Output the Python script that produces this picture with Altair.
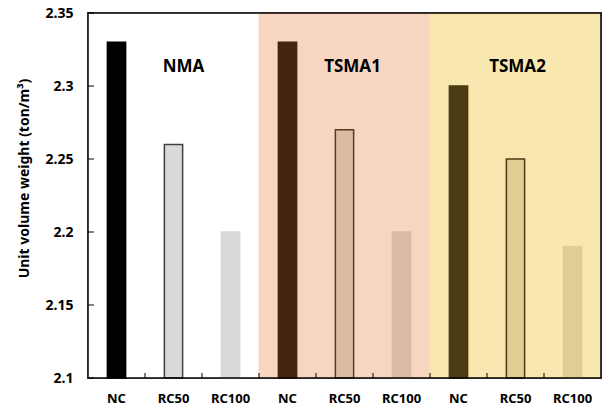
import altair as alt
import pandas as pd

groups = ["NMA", "NMA", "NMA", "TSMA1", "TSMA1", "TSMA1", "TSMA2", "TSMA2", "TSMA2"]
mixes = ["NC", "RC50", "RC100", "NC", "RC50", "RC100", "NC", "RC50", "RC100"]
values = [2.33, 2.26, 2.20, 2.33, 2.27, 2.20, 2.30, 2.25, 2.19]
fills = ["#000000", "#D9D9D9", "#D9D9D9",
         "#45230E", "#DBBBA4", "#DBBBA4",
         "#4A3B15", "#E0CD93", "#E0CD93"]
strokes = ["#000000", "#404040", "#D9D9D9",
           "#45230E", "#5A3A22", "#DBBBA4",
           "#4A3B15", "#4A3B15", "#E0CD93"]
group_bg = {"NMA": "#FFFFFF", "TSMA1": "#F8D5C0", "TSMA2": "#F8E7AF"}
y_ticks = [2.1, 2.15, 2.2, 2.25, 2.3, 2.35]
group_labels = ["NMA", "TSMA1", "TSMA2"]

ids = [f"{g}-{m}" for g, m in zip(groups, mixes)]
df = pd.DataFrame({
    "id": ids, "group": groups, "mix": mixes, "value": values,
    "fill": fills, "stroke": strokes,
    "bg": [group_bg[g] for g in groups],
})
df_ticks = pd.DataFrame({"v": y_ticks})

W, H = 513, 365
FONT = "Noto Sans"

xscale = alt.Scale(domain=ids, paddingInner=0, paddingOuter=0)
yscale = alt.Scale(domain=[2.1, 2.35], zero=False, nice=False)

x_enc = alt.X("id:N", scale=xscale, sort=ids, title=None,
              axis=alt.Axis(labelExpr="split(datum.label, '-')[1]", labelAngle=0,
                            ticks=False, domain=False, labelPadding=14,
                            labelFont=FONT, labelFontSize=13, labelFontWeight="bold",
                            labelColor="#000000"))

base = alt.Chart(df)

bg = base.mark_rect().encode(
    x=x_enc,
    y=alt.value(0), y2=alt.value(H),
    color=alt.Color("bg:N", scale=None),
    stroke=alt.Color("bg:N", scale=None),
)

bars = base.mark_bar(width=alt.RelativeBandSize(0.32), strokeWidth=1.5).encode(
    x=alt.X("id:N", scale=xscale, sort=ids),
    y=alt.Y("value:Q", scale=yscale,
            title="Unit volume weight (ton/m³)",
            axis=alt.Axis(values=y_ticks, format="~g", ticks=False, domain=False, grid=False,
                          labelPadding=15, labelFont=FONT, labelFontSize=14,
                          labelFontWeight="bold", labelColor="#000000",
                          titleFont=FONT, titleFontSize=14, titleFontWeight="bold",
                          titleColor="#000000", titleX=-64, titleY=165,
                          titleBaseline="middle", titleAlign="center")),
    y2=alt.datum(2.1),
    color=alt.Color("fill:N", scale=None),
    stroke=alt.Color("stroke:N", scale=None),
)

xticks = base.transform_filter(alt.datum.id != ids[0]).mark_rule(
    color="#000000", strokeWidth=1).encode(
    x=alt.X("id:N", scale=xscale, sort=ids, bandPosition=0),
    y=alt.value(H - 5), y2=alt.value(H),
)

yticks = alt.Chart(df_ticks).mark_rule(color="#000000", strokeWidth=1).encode(
    y=alt.Y("v:Q", scale=yscale),
    x=alt.value(0), x2=alt.value(6),
)

frame = alt.Chart(df_ticks.head(1)).mark_rect(
    filled=False, color="#000000", strokeWidth=1.5).encode(
    x=alt.value(0), x2=alt.value(W), y=alt.value(0), y2=alt.value(H),
)

label_dx = {"NMA": 10, "TSMA1": 8, "TSMA2": 2}
texts = []
for g in group_labels:
    t = base.transform_filter(
        (alt.datum.group == g) & (alt.datum.mix == "RC50")
    ).mark_text(font=FONT, fontSize=17, fontWeight="bold", color="#000000",
                baseline="alphabetic", align="center", dx=label_dx[g]).encode(
        x=alt.X("id:N", scale=xscale, sort=ids),
        y=alt.value(59),
        text=alt.Text("group:N"),
    )
    texts.append(t)

chart = alt.layer(bg, bars, xticks, yticks, frame, *texts).properties(
    width=W, height=H,
    autosize=alt.AutoSizeParams(type="none"),
    padding={"left": 88, "top": 13, "right": 4, "bottom": 33},
    background="#FFFFFF",
).configure_view(stroke="#000000", strokeWidth=1.5)

chart.save("out.html", embed_options={"renderer": "svg", "actions": False})
